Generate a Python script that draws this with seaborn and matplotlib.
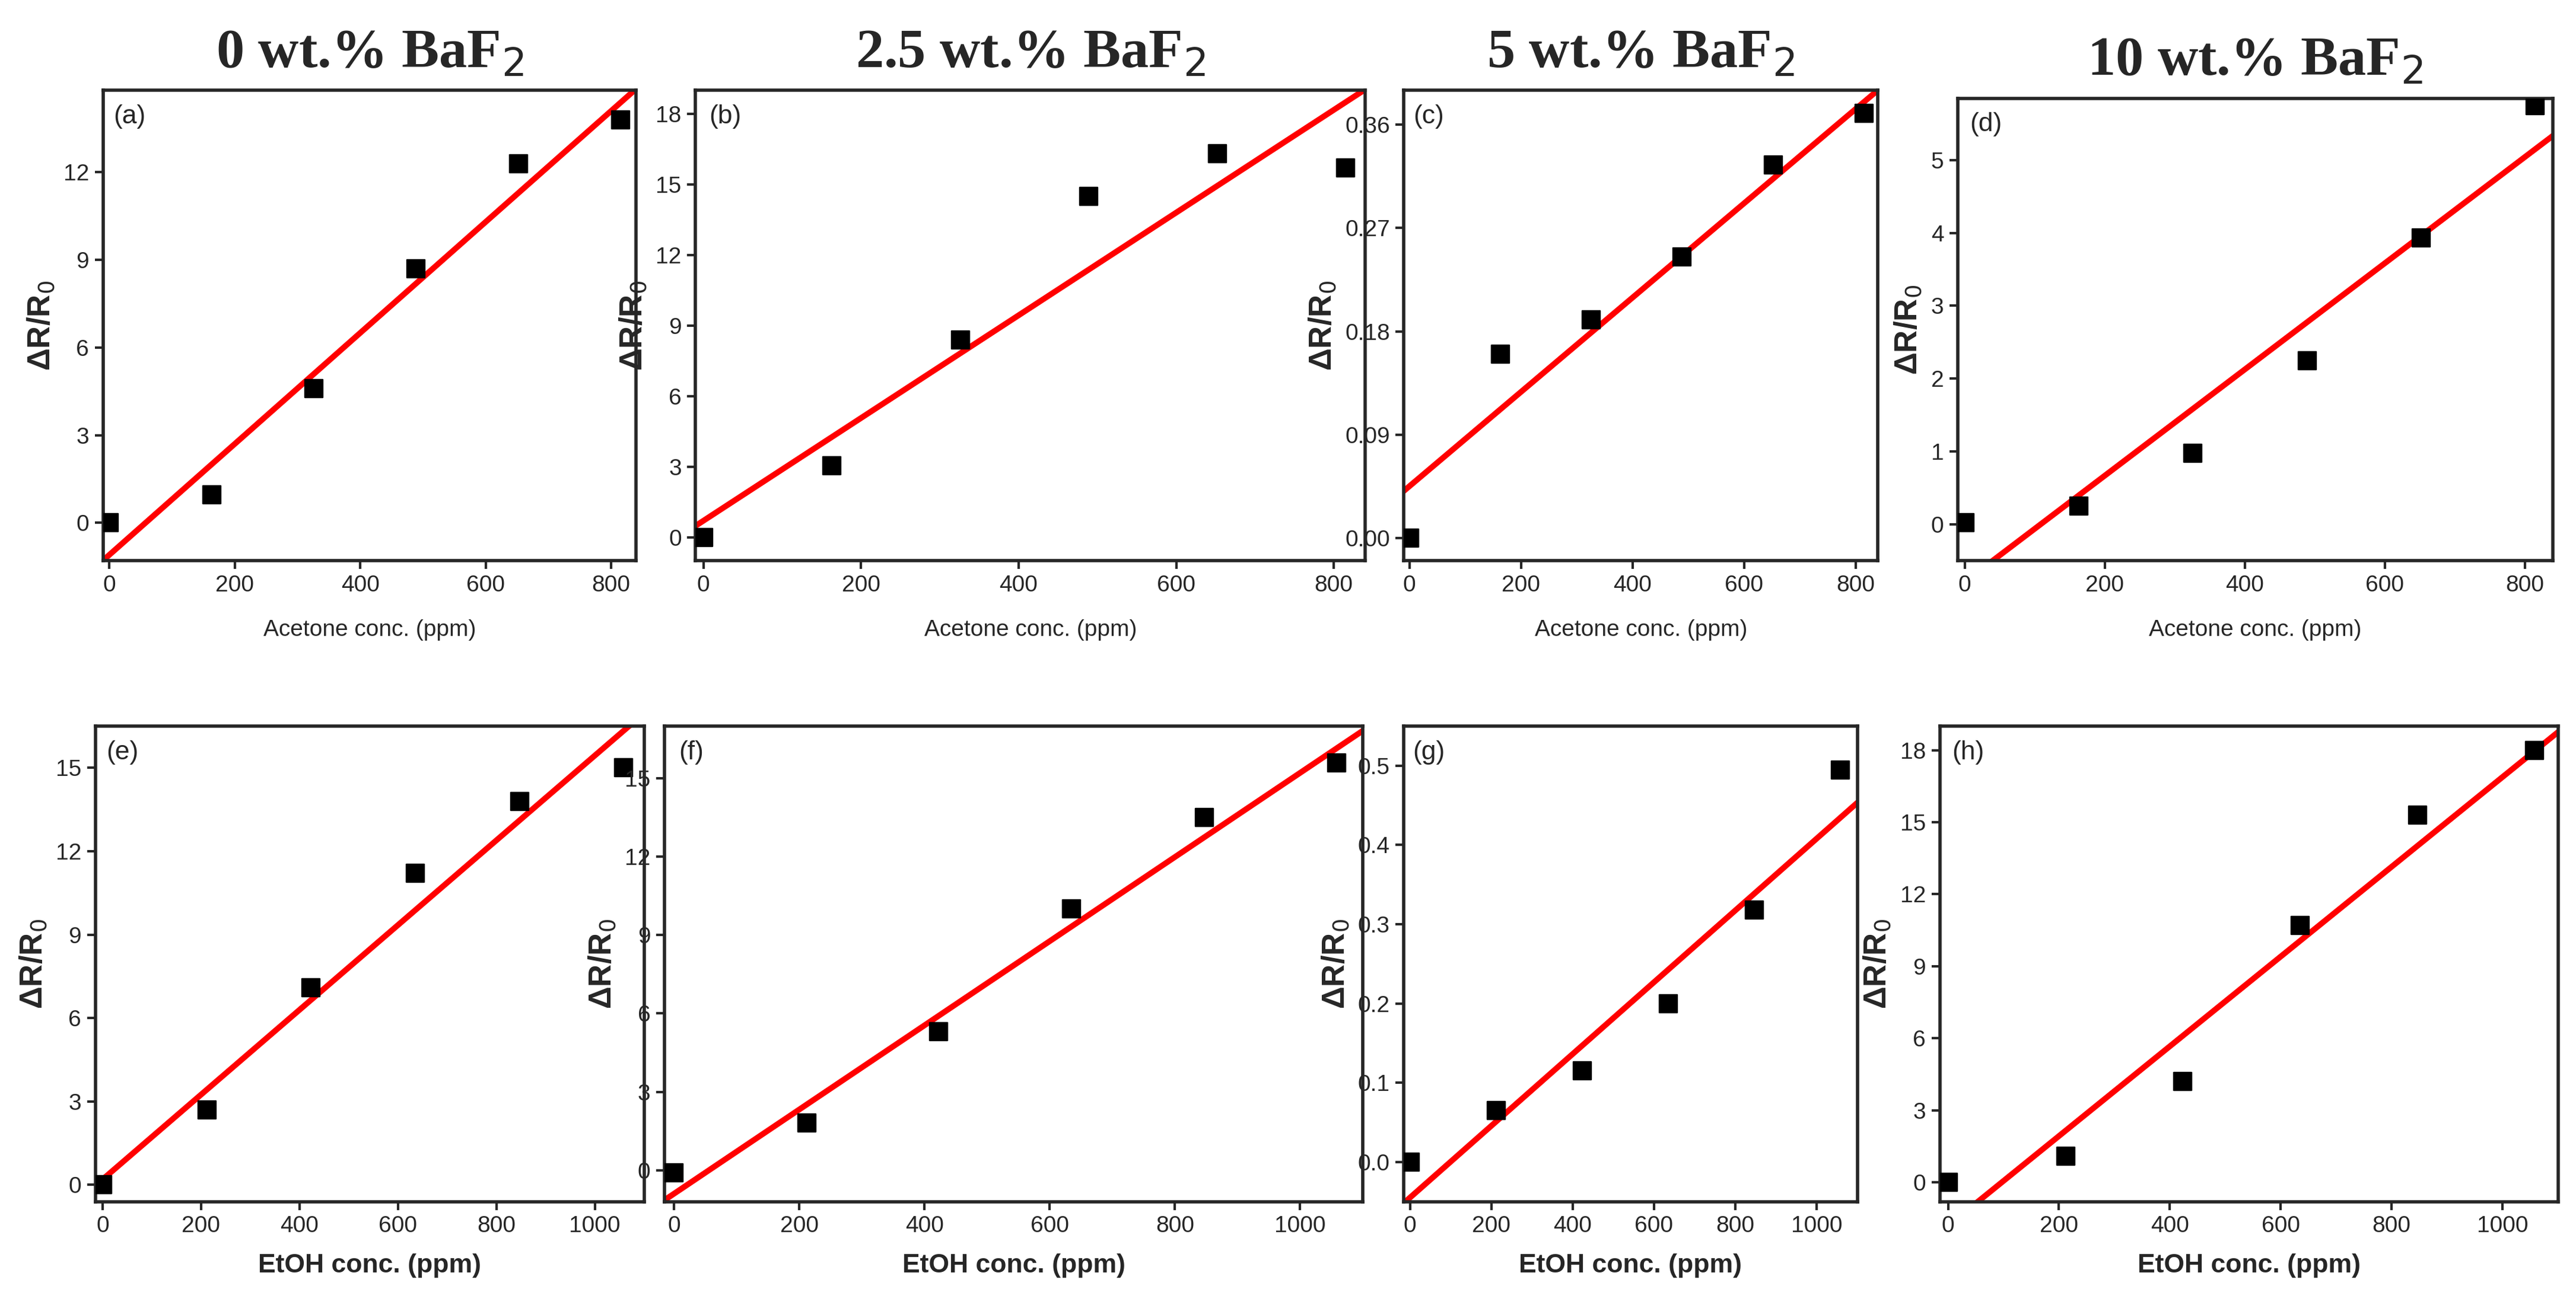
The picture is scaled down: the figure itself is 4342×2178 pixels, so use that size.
import matplotlib
matplotlib.use("Agg")
import matplotlib.pyplot as plt
import numpy as np
import seaborn as sns

sns.set_style("ticks")
plt.rcParams['font.family'] = ['Liberation Sans', 'DejaVu Sans']

# concentrations (ppm)
acetone_ppm = [0, 163, 326, 489, 652, 815]
etoh_ppm = [0, 212, 423, 635, 847, 1058]

# response dR/R0
resp_a = [0, 0.95, 4.6, 8.7, 12.3, 13.8]
resp_b = [0, 3.05, 8.4, 14.5, 16.3, 15.7]
resp_c = [0, 0.16, 0.19, 0.245, 0.325, 0.37]
resp_d = [0.02, 0.25, 0.98, 2.25, 3.93, 5.75]
resp_e = [0, 2.7, 7.1, 11.2, 13.8, 15.0]
resp_f = [-0.1, 1.8, 5.3, 10.0, 13.5, 15.6]
resp_g = [0, 0.065, 0.115, 0.2, 0.318, 0.495]
resp_h = [0, 1.1, 4.2, 10.7, 15.3, 18.0]

# linear fit lines (slope, intercept)
fit_a = (0.0190, -1.1)
fit_b = (0.02184, 0.7)
fit_c = (0.000411, 0.045)
fit_d = (0.00729, -0.79)
fit_e = (0.01524, 0.2)
fit_f = (0.01611, -0.9)
fit_g = (0.000453, -0.045)
fit_h = (0.01869, -1.81)

titles = ['0 wt.% BaF$_2$', '2.5 wt.% BaF$_2$', '5 wt.% BaF$_2$', '10 wt.% BaF$_2$']

panels = [
    # label, x, y, fit, ylim, yticks, rect
    ('(a)', acetone_ppm, resp_a, fit_a, (-1.3, 14.8), [0, 3, 6, 9, 12], [0.040, 0.566, 0.207, 0.364]),
    ('(b)', acetone_ppm, resp_b, fit_b, (-1.0, 19.0), [0, 3, 6, 9, 12, 15, 18], [0.270, 0.566, 0.260, 0.364]),
    ('(c)', acetone_ppm, resp_c, fit_c, (-0.02, 0.39), [0, 0.09, 0.18, 0.27, 0.36], [0.545, 0.566, 0.184, 0.364]),
    ('(d)', acetone_ppm, resp_d, fit_d, (-0.5, 5.85), [0, 1, 2, 3, 4, 5], [0.760, 0.566, 0.231, 0.358]),
    ('(e)', etoh_ppm, resp_e, fit_e, (-0.6, 16.5), [0, 3, 6, 9, 12, 15], [0.037, 0.070, 0.213, 0.368]),
    ('(f)', etoh_ppm, resp_f, fit_f, (-1.2, 17.0), [0, 3, 6, 9, 12, 15], [0.258, 0.070, 0.271, 0.368]),
    ('(g)', etoh_ppm, resp_g, fit_g, (-0.05, 0.55), [0, 0.1, 0.2, 0.3, 0.4, 0.5], [0.545, 0.070, 0.176, 0.368]),
    ('(h)', etoh_ppm, resp_h, fit_h, (-0.8, 19.0), [0, 3, 6, 9, 12, 15, 18], [0.753, 0.070, 0.240, 0.368]),
]

fig = plt.figure(figsize=(21.71, 10.89), dpi=200)

for i, (lab, x, y, fit, ylim, yticks, rect) in enumerate(panels):
    ax = fig.add_axes(rect)
    if i < 4:
        ax.set_xlim(-10, 840)
        ax.set_xticks([0, 200, 400, 600, 800])
        ax.set_xlabel('Acetone conc. (ppm)', fontsize=14, labelpad=14)
    else:
        ax.set_xlim(-15, 1100)
        ax.set_xticks([0, 200, 400, 600, 800, 1000])
        ax.set_xlabel('EtOH conc. (ppm)', fontsize=16, fontweight='bold', labelpad=10)
    # fit line clipped to axes
    lx = np.linspace(-20, 1100, 200)
    sns.lineplot(x=lx, y=fit[0] * lx + fit[1], ax=ax, color='red', linewidth=3.5)
    sns.scatterplot(x=x, y=y, ax=ax, marker='s', color='black', s=120, edgecolor='black', zorder=5)
    ax.set_ylim(*ylim)
    ax.set_yticks(yticks)
    ax.set_ylabel('ΔR/R$_0$', fontsize=19, fontweight='bold', labelpad=4)
    ax.text(0.02, 0.97, lab, transform=ax.transAxes, fontsize=16, va='top', ha='left')
    ax.tick_params(labelsize=14, width=1.5, length=5)
    for sp in ax.spines.values():
        sp.set_visible(True)
        sp.set_linewidth(2)
    if i < 4:
        ax.set_title(titles[i], fontsize=34, fontweight='bold', family='Liberation Serif', pad=14)

fig.savefig('out.png', dpi=200, facecolor='white')
